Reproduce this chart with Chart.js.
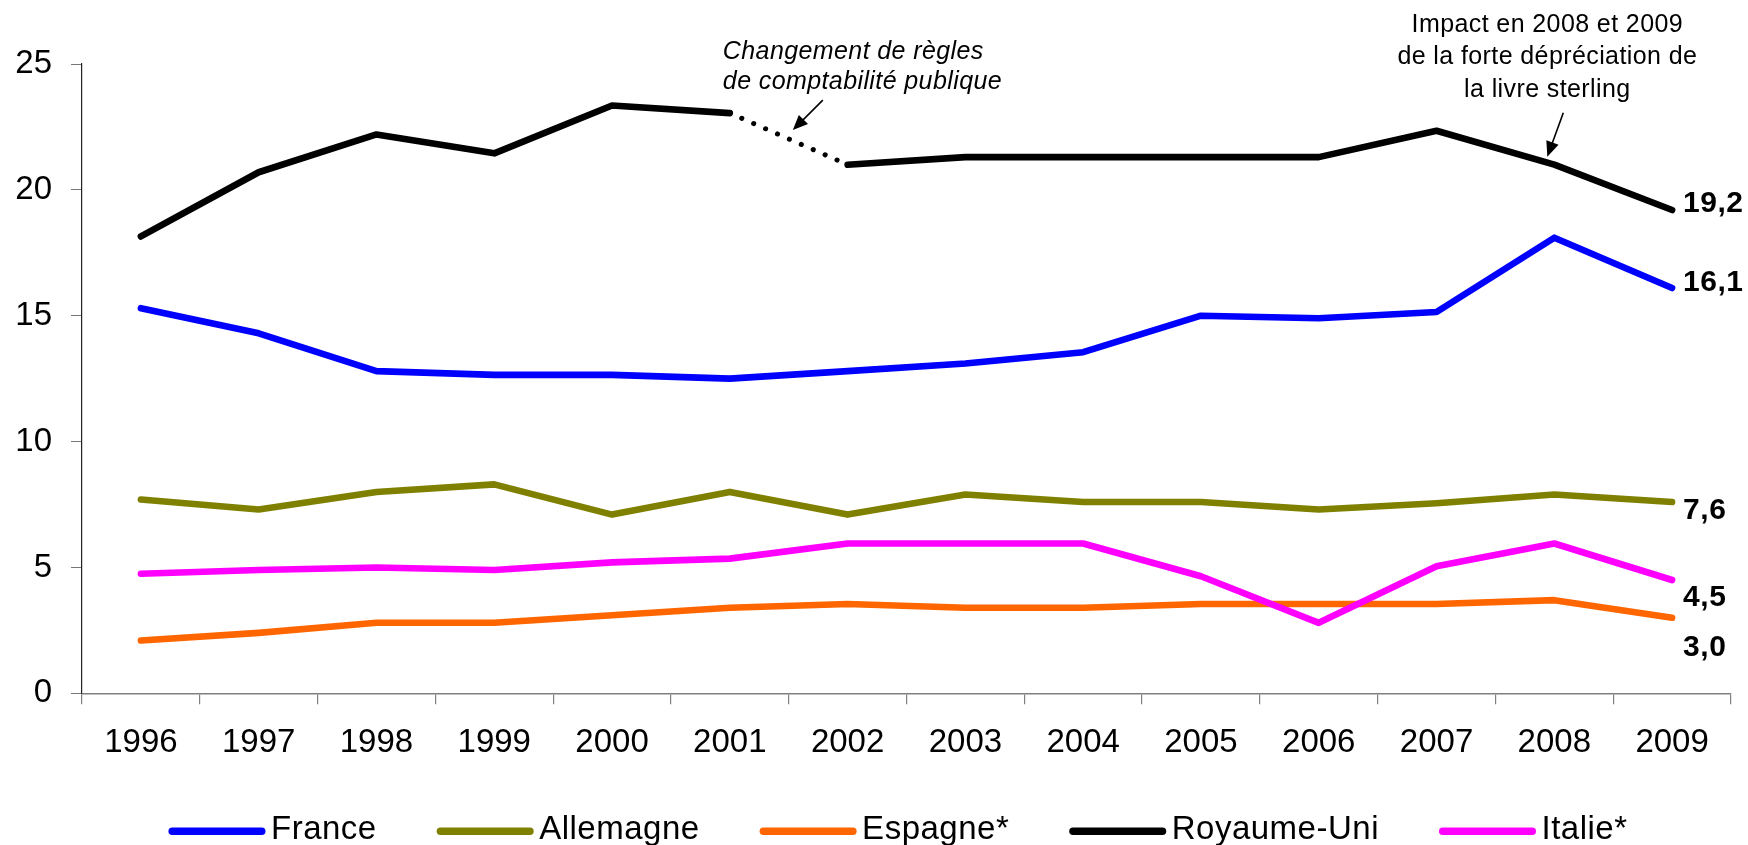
<!DOCTYPE html>
<html>
<head>
<meta charset="utf-8">
<script src="https://cdn.jsdelivr.net/npm/chart.js@4.4.0/dist/chart.umd.min.js"></script>
<style>html,body{margin:0;background:#fff}canvas{display:block}</style>
</head>
<body>
<canvas id="c" width="1748" height="845"></canvas>
<script>
const years = ['1996','1997','1998','1999','2000','2001','2002','2003','2004','2005','2006','2007','2008','2009'];
const france     = [15.3, 14.3, 12.8, 12.65, 12.65, 12.5, 12.8, 13.1, 13.55, 15.0, 14.9, 15.15, 18.1, 16.1];
const allemagne  = [7.7, 7.3, 8.0, 8.3, 7.1, 8.0, 7.1, 7.9, 7.6, 7.6, 7.3, 7.55, 7.9, 7.6];
const espagne    = [2.1, 2.4, 2.8, 2.8, 3.1, 3.4, 3.55, 3.4, 3.4, 3.55, 3.55, 3.55, 3.7, 3.0];
const royaumeUni = [18.15, 20.7, 22.2, 21.45, 23.35, 23.05, 21.0, 21.3, 21.3, 21.3, 21.3, 22.35, 21.0, 19.2];
const italie     = [4.75, 4.9, 5.0, 4.9, 5.2, 5.35, 5.95, 5.95, 5.95, 4.65, 2.8, 5.05, 5.95, 4.5];
const seriesNames = ['France', 'Allemagne', 'Espagne*', 'Royaume-Uni', 'Italie*'];
const endLabels = ['16,1', '7,6', '3,0', '19,2', '4,5'];
const yTicks = [0, 5, 10, 15, 20, 25];

const FONT = "'Liberation Sans', Arial, sans-serif";
const colors = ['#0000ff', '#808000', '#ff6600', '#000000', '#ff00ff'];
const labelShift = [-5.5, 8.5, 30, -6, 18]; // vertical nudge of end labels (px)
const DOTTED_FROM = years.indexOf('2001');

function ds(i, data, order){
  return {
    label: seriesNames[i], data, borderColor: colors[i], backgroundColor: colors[i],
    borderWidth: 6.6, pointRadius: 0, tension: 0, fill: false,
    borderCapStyle: 'round', borderJoinStyle: 'round', order
  };
}

const rk = ds(3, royaumeUni, 2);
rk.segment = {
  borderDash: c => c.p0DataIndex === DOTTED_FROM ? [0.1, 12.9] : undefined,
  borderWidth: c => c.p0DataIndex === DOTTED_FROM ? 5 : undefined
};

function arrow(ctx, x1, y1, x2, y2){
  const a = Math.atan2(y2 - y1, x2 - x1), L = 15, W = 6.5;
  ctx.save();
  ctx.strokeStyle = '#000'; ctx.fillStyle = '#000'; ctx.lineWidth = 1.6;
  ctx.beginPath(); ctx.moveTo(x1, y1);
  ctx.lineTo(x2 - Math.cos(a) * L * 0.8, y2 - Math.sin(a) * L * 0.8); ctx.stroke();
  ctx.beginPath(); ctx.moveTo(x2, y2);
  ctx.lineTo(x2 - L * Math.cos(a) + W * Math.sin(a), y2 - L * Math.sin(a) - W * Math.cos(a));
  ctx.lineTo(x2 - L * Math.cos(a) - W * Math.sin(a), y2 - L * Math.sin(a) + W * Math.cos(a));
  ctx.closePath(); ctx.fill();
  ctx.restore();
}

const extras = {
  id: 'extras',
  afterDatasetsDraw(chart){
    const {ctx, scales: {x, y}, chartArea} = chart;
    const last = years.length - 1;
    ctx.save();
    // end-of-line values
    ctx.font = 'bold 30px ' + FONT; ctx.letterSpacing = '0.5px';
    ctx.fillStyle = '#000'; ctx.textAlign = 'left'; ctx.textBaseline = 'middle';
    chart.data.datasets.forEach((d, i) => {
      ctx.fillText(endLabels[i], x.getPixelForValue(last) + 11, y.getPixelForValue(d.data[last]) + labelShift[i]);
    });

    // accounting rule change note
    const x01 = x.getPixelForValue(DOTTED_FROM), y01 = y.getPixelForValue(royaumeUni[DOTTED_FROM]);
    ctx.font = 'italic 25px ' + FONT; ctx.letterSpacing = '0.4px'; ctx.textBaseline = 'alphabetic';
    ctx.fillText('Changement de règles', x01 - 7, 59);
    ctx.fillText('de comptabilité publique', x01 - 7, 89);
    arrow(ctx, x01 + 93, y01 - 13, x01 + 63, y01 + 17);

    // sterling note
    const i08 = years.indexOf('2008');
    const x08 = x.getPixelForValue(i08), y08 = y.getPixelForValue(royaumeUni[i08]);
    ctx.font = '25px ' + FONT; ctx.textAlign = 'center';
    ctx.fillText('Impact en 2008 et 2009', x08 - 7, 32);
    ctx.fillText('de la forte dépréciation de', x08 - 7, 64);
    ctx.fillText('la livre sterling', x08 - 7, 96.5);
    arrow(ctx, x08 + 9, y08 - 52, x08 - 7, y08 - 8);

    // legend
    ctx.font = '33px ' + FONT; ctx.letterSpacing = '0.5px';
    ctx.textAlign = 'left'; ctx.textBaseline = 'alphabetic';
    const lineW = 97, gap = 5.5, sep = 60;
    const widths = seriesNames.map(s => ctx.measureText(s).width);
    const total = widths.reduce((a, w) => a + lineW + gap + w, 0) + sep * (seriesNames.length - 1);
    let lx = (chartArea.left + chartArea.right) / 2 - 8.5 - total / 2;
    const ly = 831.3;
    seriesNames.forEach((s, i) => {
      ctx.strokeStyle = colors[i]; ctx.lineWidth = 7.5; ctx.lineCap = 'round';
      ctx.beginPath(); ctx.moveTo(lx + 3.75, ly); ctx.lineTo(lx + lineW - 3.75, ly); ctx.stroke();
      ctx.fillStyle = '#000';
      ctx.fillText(s, lx + lineW + gap, 839);
      lx += lineW + gap + widths[i] + sep;
    });
    ctx.restore();
  }
};

new Chart(document.getElementById('c'), {
  type: 'line',
  data: {
    labels: years,
    datasets: [ds(0, france, 5), ds(1, allemagne, 4), ds(2, espagne, 3), rk, ds(4, italie, 1)]
  },
  options: {
    responsive: false,
    animation: false,
    layout: {padding: {top: 64, right: 17, left: 0, bottom: 0}},
    plugins: {legend: {display: false}, tooltip: {enabled: false}},
    scales: {
      x: {
        offset: true,
        grid: {offset: true, drawOnChartArea: false, drawTicks: true, tickLength: 11, color: '#808080', lineWidth: 1.2},
        border: {color: '#808080', width: 1.5},
        ticks: {color: '#000', font: {family: FONT, size: 33}, padding: 19, maxRotation: 0, autoSkip: false},
        afterFit(s){ s.height = 151.7; }
      },
      y: {
        min: 0, max: 25,
        afterBuildTicks(s){ s.ticks = yTicks.map(v => ({value: v})); },
        grid: {drawOnChartArea: false, drawTicks: true, tickLength: 11, color: '#777'},
        border: {color: '#222', width: 1.2},
        ticks: {color: '#000', font: {family: FONT, size: 33}, padding: 19},
        afterFit(s){ s.width = 82; }
      }
    }
  },
  plugins: [extras]
});
</script>
</body>
</html>
